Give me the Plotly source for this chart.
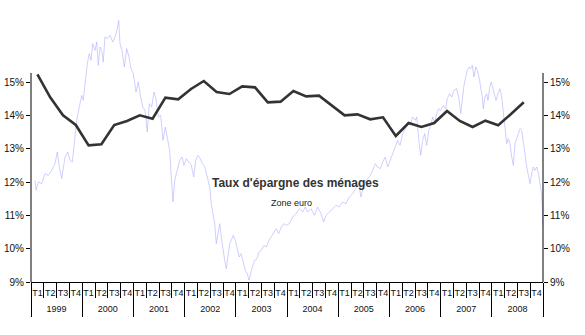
import plotly.graph_objects as go

# Household saving rate, euro area, quarterly (% of disposable income)
years = list(range(1999, 2009))
quarters = ["T1", "T2", "T3", "T4"]
saving_rate = [
    15.23, 14.54, 14.00, 13.71,   # 1999
    13.10, 13.13, 13.71, 13.83,   # 2000
    14.00, 13.90, 14.53, 14.48,   # 2001
    14.79, 15.03, 14.70, 14.64,   # 2002
    14.87, 14.84, 14.39, 14.41,   # 2003
    14.73, 14.57, 14.59, 14.30,   # 2004
    14.00, 14.03, 13.88, 13.94,   # 2005
    13.38, 13.77, 13.65, 13.77,   # 2006
    14.13, 13.83, 13.65, 13.84,   # 2007
    13.70, 14.04, 14.39, None,    # 2008
]

# Background market series (weekly-ish readings, decimal years)
market_time = [
    1999.078, 1999.098, 1999.143, 1999.209, 1999.273, 1999.338, 1999.404, 1999.469,
    1999.514, 1999.553, 1999.600, 1999.664, 1999.717, 1999.762, 1999.807, 1999.846,
    1999.893, 1999.943, 1999.990, 2000.021, 2000.055, 2000.100, 2000.139, 2000.172,
    2000.205, 2000.250, 2000.283, 2000.314, 2000.348, 2000.381, 2000.412, 2000.445,
    2000.490, 2000.543, 2000.596, 2000.641, 2000.686, 2000.713, 2000.738, 2000.777,
    2000.822, 2000.869, 2000.914, 2000.953, 2000.998, 2001.051, 2001.096, 2001.129,
    2001.182, 2001.227, 2001.271, 2001.311, 2001.357, 2001.402, 2001.441, 2001.486,
    2001.533, 2001.578, 2001.623, 2001.662, 2001.709, 2001.740, 2001.773, 2001.807,
    2001.852, 2001.904, 2001.949, 2001.988, 2002.033, 2002.080, 2002.131, 2002.178,
    2002.217, 2002.262, 2002.307, 2002.346, 2002.393, 2002.443, 2002.490, 2002.521,
    2002.555, 2002.588, 2002.619, 2002.652, 2002.686, 2002.717, 2002.750, 2002.783,
    2002.814, 2002.848, 2002.881, 2002.912, 2002.951, 2002.990, 2003.029, 2003.068,
    2003.107, 2003.146, 2003.186, 2003.225, 2003.258, 2003.291, 2003.322, 2003.369,
    2003.414, 2003.453, 2003.498, 2003.551, 2003.596, 2003.648, 2003.693, 2003.746,
    2003.791, 2003.838, 2003.889, 2003.941, 2003.986, 2004.045, 2004.111, 2004.176,
    2004.240, 2004.307, 2004.357, 2004.404, 2004.469, 2004.533, 2004.600, 2004.664,
    2004.717, 2004.762, 2004.826, 2004.893, 2004.957, 2005.021, 2005.088, 2005.152,
    2005.217, 2005.283, 2005.348, 2005.400, 2005.445, 2005.490, 2005.543, 2005.607,
    2005.674, 2005.725, 2005.771, 2005.822, 2005.869, 2005.920, 2005.967, 2006.012,
    2006.064, 2006.115, 2006.162, 2006.207, 2006.260, 2006.311, 2006.357, 2006.402,
    2006.455, 2006.506, 2006.533, 2006.572, 2006.611, 2006.650, 2006.689, 2006.729,
    2006.768, 2006.807, 2006.846, 2006.885, 2006.924, 2006.963, 2007.002, 2007.053,
    2007.100, 2007.131, 2007.178, 2007.217, 2007.262, 2007.314, 2007.359, 2007.393,
    2007.424, 2007.457, 2007.490, 2007.521, 2007.555, 2007.588, 2007.619, 2007.652,
    2007.686, 2007.717, 2007.750, 2007.783, 2007.814, 2007.834, 2007.867, 2007.900,
    2007.926, 2007.959, 2007.990, 2008.023, 2008.049, 2008.082, 2008.121, 2008.160,
    2008.193, 2008.225, 2008.258, 2008.291, 2008.322, 2008.355, 2008.389, 2008.420,
    2008.453, 2008.486, 2008.518, 2008.551, 2008.584, 2008.615, 2008.648, 2008.682,
    2008.713, 2008.746, 2008.779, 2008.811, 2008.844, 2008.877, 2008.912, 2008.941,
    2008.967, 2008.986, 2009.000,
]
market_level = [
    12.05, 11.75, 12.00, 11.95, 12.25, 12.20, 12.35, 12.55,
    12.90, 12.45, 12.10, 12.75, 12.90, 12.65, 12.60, 13.15,
    13.85, 14.25, 14.60, 14.45, 14.90, 15.55, 15.85, 15.65,
    16.15, 15.95, 16.20, 15.50, 16.05, 15.95, 15.60, 16.35,
    16.30, 16.40, 16.20, 16.35, 16.60, 16.85, 16.15, 15.95,
    15.45, 16.00, 15.75, 15.40, 15.25, 14.70, 15.00, 14.65,
    14.25, 14.15, 13.50, 14.35, 14.25, 14.70, 14.50, 13.95,
    14.00, 13.25, 13.65, 13.35, 12.95, 12.15, 11.40, 12.05,
    12.30, 12.65, 12.75, 12.50, 12.70, 12.60, 12.50, 12.15,
    12.65, 12.80, 12.70, 12.55, 12.45, 12.15, 11.85, 11.35,
    11.05, 10.75, 10.15, 10.45, 10.75, 10.35, 9.95, 9.65,
    9.40, 9.75, 10.15, 10.25, 10.40, 10.25, 9.95, 9.75,
    9.85, 9.55, 9.35, 9.25, 9.05, 9.25, 9.45, 9.65,
    9.70, 9.90, 9.95, 10.10, 10.05, 10.25, 10.35, 10.50,
    10.60, 10.45, 10.65, 10.75, 10.70, 10.75, 10.95, 11.05,
    11.20, 11.10, 11.25, 11.10, 11.20, 11.00, 11.25, 11.05,
    10.80, 11.00, 11.10, 11.20, 11.30, 11.25, 11.40, 11.35,
    11.55, 11.65, 11.80, 11.95, 11.55, 11.85, 12.05, 12.15,
    12.35, 12.55, 12.45, 12.40, 12.60, 12.75, 12.45, 12.65,
    12.85, 13.10, 13.25, 13.10, 13.45, 13.60, 13.80, 13.70,
    13.95, 13.85, 13.95, 13.30, 12.80, 13.25, 13.45, 13.10,
    13.55, 13.70, 13.95, 13.75, 14.05, 14.20, 14.15, 14.30,
    14.20, 14.50, 14.65, 14.55, 14.75, 14.80, 14.50, 14.05,
    14.50, 14.90, 15.15, 15.35, 15.45, 15.40, 15.50, 15.15,
    15.45, 15.35, 15.15, 14.85, 14.55, 14.20, 14.55, 14.65,
    14.45, 14.85, 15.00, 14.80, 14.65, 14.45, 14.65, 14.80,
    14.55, 14.15, 13.65, 13.15, 13.30, 13.15, 12.75, 12.50,
    13.15, 13.30, 13.50, 13.60, 13.55, 13.25, 12.85, 12.45,
    12.25, 11.95, 12.25, 12.45, 12.35, 12.45, 12.25, 11.95,
    11.70, 11.25, 10.65,
]

pct_ticks = [9, 10, 11, 12, 13, 14, 15]
pct_labels = [f"{v}%" for v in pct_ticks]

FONT = "Liberation Sans, Arial, sans-serif"
Y_RANGE = [9, 17.16]
AXIS_TOP = 15.27
X_RANGE = [years[0], years[-1] + 1]

# time positions derived from the calendar
quarter_mid = [y + (k + 0.5) / 4 for y in years for k in range(4)]
quarter_edge = [y + k / 4 for y in years for k in range(4)] + [X_RANGE[1]]
quarter_text = [q for _ in years for q in quarters]
year_edge = years + [X_RANGE[1]]
year_mid = [y + 0.5 for y in years]
year_text = [str(y) for y in years]

fig = go.Figure()

fig.add_trace(go.Scatter(
    x=market_time, y=market_level,
    xaxis="x", yaxis="y",
    mode="lines",
    line=dict(color="rgba(175,175,255,0.6)", width=1),
    hoverinfo="skip", showlegend=False,
))

fig.add_trace(go.Scatter(
    x=quarter_mid, y=saving_rate,
    xaxis="x", yaxis="y",
    mode="lines",
    line=dict(color="#333333", width=2.6),
    connectgaps=False, showlegend=False,
))

# empty traces so the extra scale axes are laid out
for xa, ya in [("x2", "y"), ("x3", "y"), ("x4", "y"), ("x", "y2")]:
    fig.add_trace(go.Scatter(
        x=[X_RANGE[0]], y=[None], xaxis=xa, yaxis=ya,
        mode="lines", showlegend=False, hoverinfo="skip",
    ))

common_x = dict(range=X_RANGE, showgrid=False, zeroline=False,
                automargin=False, fixedrange=True)
label_font = dict(family=FONT, size=9, color="#111111")
pct_font = dict(family=FONT, size=10, color="#111111")

fig.update_layout(
    width=585, height=335,
    margin=dict(l=31, r=42, t=10, b=53),
    paper_bgcolor="white", plot_bgcolor="white",
    font=dict(family=FONT, size=10, color="#111111"),
    # quarter separators
    xaxis=dict(
        **common_x,
        tickmode="array", tickvals=quarter_edge, showticklabels=False,
        showline=True, linecolor="#000000", linewidth=1,
        ticks="outside", ticklen=15, tickcolor="#000000", tickwidth=1,
    ),
    # year separators
    xaxis2=dict(
        **common_x, overlaying="x", anchor="y",
        tickmode="array", tickvals=year_edge, showticklabels=False,
        ticks="outside", ticklen=34, tickcolor="#000000", tickwidth=1,
    ),
    # quarter names
    xaxis3=dict(
        **common_x, overlaying="x", anchor="y",
        tickmode="array", tickvals=quarter_mid, ticktext=quarter_text,
        ticks="", tickangle=0, tickfont=label_font, ticklabelstandoff=4,
    ),
    # year names
    xaxis4=dict(
        **common_x, overlaying="x", anchor="y",
        tickmode="array", tickvals=year_mid, ticktext=year_text,
        ticks="", tickangle=0, tickfont=label_font, ticklabelstandoff=20,
    ),
    yaxis=dict(
        range=Y_RANGE, tickvals=pct_ticks, ticktext=pct_labels, automargin=False,
        ticks="outside", ticklen=4, tickcolor="#000000",
        showline=False, showgrid=False, zeroline=False, tickfont=pct_font,
    ),
    yaxis2=dict(
        overlaying="y", side="right", anchor="x", automargin=False,
        range=Y_RANGE, tickvals=pct_ticks, ticktext=pct_labels,
        ticks="outside", ticklen=4, tickcolor="#000000",
        showline=False, showgrid=False, zeroline=False, tickfont=pct_font,
    ),
    shapes=[
        dict(type="line", xref="paper", yref="y", x0=0, x1=0,
             y0=Y_RANGE[0], y1=AXIS_TOP, line=dict(color="#000000", width=1)),
        dict(type="line", xref="paper", yref="y", x0=1, x1=1,
             y0=Y_RANGE[0], y1=AXIS_TOP, line=dict(color="#000000", width=1)),
    ],
    annotations=[
        dict(text="<b>Taux d'épargne des ménages</b>", xref="paper", yref="paper",
             x=0.517, y=0.365, yanchor="middle", showarrow=False,
             font=dict(family=FONT, size=12, color="#333333")),
        dict(text="Zone euro", xref="paper", yref="paper",
             x=0.509, y=0.29, yanchor="middle", showarrow=False,
             font=dict(family=FONT, size=9, color="#222222")),
    ],
)

fig.write_html("out.html")
